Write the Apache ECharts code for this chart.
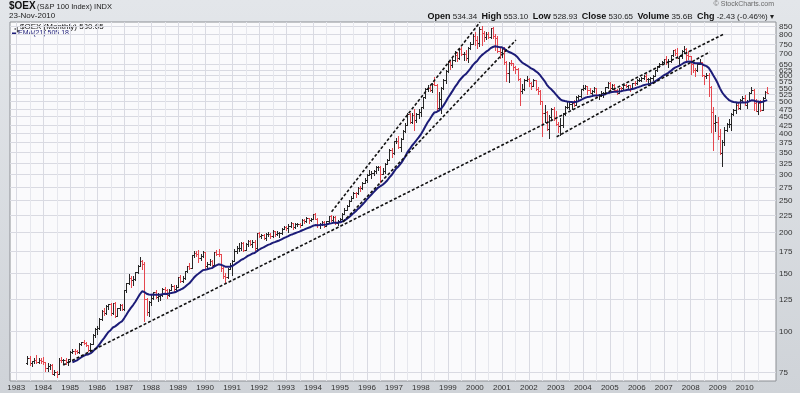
<!DOCTYPE html>
<html><head><meta charset="utf-8">
<script src="https://cdn.jsdelivr.net/npm/echarts@6/dist/echarts.min.js"></script>
<style>html,body{margin:0;padding:0;background:linear-gradient(#e3e6ea,#cfd3d8);}#c{width:800px;height:393px;}</style>
</head><body><div id="c"></div>
<script>
// ---- data (monthly bars, first bar = Jun 1983) ----
const startYear = 1983, startMonth = 6;
const opens = [
79.6,82.4,79.7,80.6,81.4,80.2,81.5,
80.8,80.1,77.0,78.0,78.4,73.8,75.1,73.8,81.7,81.4,81.4,80.2,
81.9,86.2,87.0,86.7,86.3,91.0,92.1,91.6,90.5,87.4,91.1,97.1,
101.4,101.7,108.9,114.7,113.0,118.7,120.4,113.3,121.4,111.0,117.1,119.6,
116.3,132.9,139.3,144.4,142.8,143.6,150.5,157.8,163.3,159.3,124.6,114.0,
122.3,126.0,131.2,126.9,128.0,128.5,134.0,133.3,128.1,133.2,136.7,134.1,
136.1,145.8,141.6,144.5,151.7,157.0,155.8,169.6,172.2,171.1,166.8,169.5,
173.2,158.0,159.3,163.2,158.8,173.4,171.8,171.0,154.8,146.9,145.9,154.7,
158.5,163.4,174.4,178.2,178.3,185.2,176.3,184.2,187.8,184.3,186.4,178.2,
198.1,194.2,196.0,191.8,197.1,197.3,193.8,201.5,196.7,198.5,198.9,204.9,
207.0,206.2,208.4,212.3,206.9,211.6,211.7,210.6,217.9,215.7,219.9,217.0,
219.2,226.4,219.5,209.5,211.9,214.6,208.8,215.4,223.5,217.5,222.0,213.2,
215.9,219.6,227.6,233.8,240.4,249.1,254.4,262.5,262.4,272.9,271.6,282.7,
287.6,298.9,301.0,303.4,307.5,314.5,315.2,300.8,306.4,323.0,331.5,355.8,
348.1,377.4,379.6,363.4,384.6,407.2,424.8,458.1,431.8,454.7,439.0,458.6,
465.8,480.3,514.2,545.4,550.3,539.9,566.9,560.4,478.7,508.5,549.4,581.8,
620.7,659.0,643.9,668.9,694.3,676.9,720.7,697.6,699.8,679.8,729.2,750.0,
793.4,767.0,751.5,831.7,806.1,788.4,800.0,787.0,834.7,790.1,779.0,710.2,
706.4,724.0,657.1,609.2,656.0,653.0,636.7,629.8,583.8,536.1,545.8,581.1,
585.5,570.8,558.9,579.4,543.8,538.9,499.8,460.4,462.6,411.7,447.3,472.8,
444.3,427.9,420.6,424.1,458.5,481.8,482.4,490.2,493.9,488.0,514.8,518.5,
544.8,548.6,555.3,540.6,531.5,537.9,547.6,523.3,524.5,529.4,531.2,551.7,
569.6,549.3,559.7,543.1,532.2,548.1,548.0,561.6,555.2,559.1,549.2,568.5,
568.0,582.4,582.7,589.1,596.3,584.2,584.3,587.3,599.7,621.2,640.7,651.3,
659.5,671.6,657.0,663.6,692.3,714.8,702.1,679.6,688.3,713.0,723.6,691.7,
685.7,647.9,625.4,621.7,651.2,658.2,601.6,595.7,602.9,554.0,465.0,430.2,
433.6,392.3,349.2,375.0,410.2,427.4,427.5,459.2,469.5,486.3,476.7,504.0,
513.0,488.6,502.5,532.1,540.0,495.7,469.0,495.7,472.2,513.5,534.34];
const highs = [
83.8,83.6,81.0,82.4,84.6,82.3,82.3,
82.9,80.3,79.5,79.3,79.0,76.0,75.6,82.6,83.2,82.0,82.4,82.2,
86.8,88.2,87.8,87.5,91.5,92.7,93.6,92.1,90.7,91.5,97.4,101.9,
103.0,109.5,115.5,117.5,119.5,121.0,121.2,121.8,122.5,117.6,120.3,121.0,
133.5,140.0,148.5,147.0,146.5,151.5,158.5,167.3,164.5,161.5,126.0,123.0,
129.0,131.5,133.5,130.0,129.5,134.5,136.0,134.0,133.8,139.0,137.5,138.0,
146.0,147.5,146.5,152.0,158.0,160.5,170.0,175.5,174.5,176.6,171.0,174.5,
173.5,161.5,166.0,164.5,174.0,176.0,177.5,171.5,156.5,150.0,155.5,160.5,
164.0,177.0,181.0,185.0,186.5,186.5,185.5,189.0,189.0,188.5,189.5,198.5,
200.5,197.5,197.0,198.5,199.5,198.0,202.5,202.0,201.0,200.5,205.5,209.0,
208.0,211.0,214.5,213.0,213.0,213.5,213.0,218.5,219.5,221.5,221.0,220.5,
227.5,228.0,220.5,213.5,216.0,216.0,216.5,224.0,225.5,224.0,224.0,218.0,
221.0,228.5,236.0,241.5,250.0,258.0,265.5,265.0,274.5,276.0,284.0,292.0,
300.0,308.0,306.5,309.0,317.0,317.5,317.0,313.0,324.5,334.0,358.0,360.0,
379.0,388.0,392.0,386.0,409.0,429.0,459.5,462.0,462.0,473.0,461.0,475.0,
482.0,516.0,548.0,560.0,556.0,569.0,593.0,565.0,533.0,553.0,586.0,623.0,
664.0,662.0,677.0,712.0,708.0,723.0,733.0,709.0,715.0,731.0,758.0,800.0,
815.0,790.0,845.0,848.0,822.0,812.0,815.0,838.0,843.0,800.0,789.0,735.0,
735.0,730.0,662.0,660.0,670.0,656.0,643.0,631.0,590.0,564.0,586.0,598.0,
590.0,572.0,587.0,580.0,555.0,540.0,500.0,486.0,468.0,456.0,479.0,481.0,
468.0,432.0,446.0,462.0,485.0,500.0,498.0,496.0,506.0,518.0,524.0,546.0,
560.0,561.0,558.0,551.0,540.0,552.0,549.0,527.0,537.0,535.0,555.0,572.0,
571.0,566.0,563.0,547.0,551.0,555.0,563.0,565.0,562.0,561.0,570.0,575.0,
585.0,590.0,593.0,602.0,605.0,589.0,592.0,602.0,623.0,643.0,655.0,665.0,
675.0,687.0,672.0,694.0,717.0,723.0,727.0,690.0,718.0,738.0,729.0,712.0,
688.0,656.0,632.0,656.0,672.0,661.0,602.0,612.0,612.0,556.0,480.0,455.0,
448.0,411.0,382.0,417.0,431.0,442.0,461.0,474.0,493.0,499.0,507.0,519.0,
523.0,504.0,535.0,554.0,544.0,507.0,497.0,506.0,515.0,537.0,553.10];
const lows = [
79.0,78.8,78.0,79.9,79.8,79.5,79.9,
79.3,75.6,75.6,76.4,73.6,73.3,72.4,73.7,80.3,79.5,79.4,78.8,
80.9,85.7,85.1,85.3,85.5,90.2,90.9,89.6,86.5,86.8,90.8,96.0,
97.8,101.0,107.8,112.0,112.5,116.5,112.0,112.8,109.8,110.5,115.5,115.5,
116.0,131.5,139.0,136.0,137.5,143.0,149.5,157.0,154.5,107.0,111.5,110.8,
119.5,125.0,126.0,123.5,124.0,127.5,130.5,126.0,127.5,132.8,131.0,133.0,
135.5,140.5,140.5,143.5,150.5,154.0,155.5,168.0,169.5,161.5,164.5,167.5,
155.0,154.5,158.5,156.5,157.5,170.0,168.5,152.0,145.0,140.5,145.0,154.0,
148.0,163.0,173.0,175.0,176.5,175.5,176.0,181.5,182.5,180.5,176.5,175.5,
192.5,191.5,190.0,188.5,194.5,191.5,193.0,195.0,195.5,193.0,197.5,203.5,
202.5,200.5,207.5,204.0,205.0,208.5,207.5,210.0,213.0,214.5,213.5,215.5,
218.5,218.5,207.0,205.0,210.0,207.0,208.0,214.5,216.0,214.5,211.5,210.5,
214.0,219.0,226.5,233.0,239.5,248.5,253.5,256.5,261.5,267.5,270.5,281.5,
283.0,297.5,292.5,298.5,302.5,308.0,284.8,299.5,303.5,321.5,331.0,338.5,
345.5,372.5,361.5,352.0,384.0,404.5,423.0,430.0,431.0,410.0,432.0,444.0,
450.0,479.0,512.0,536.0,537.0,535.0,560.0,470.0,471.0,461.0,545.0,570.0,
616.0,627.0,637.0,664.0,664.0,671.0,693.0,670.0,667.0,660.0,722.0,747.0,
742.0,728.0,737.0,743.0,765.0,775.0,778.0,780.0,780.0,715.0,705.0,680.0,
682.0,650.0,575.0,572.0,645.0,625.0,612.0,580.0,488.0,530.0,540.0,575.0,
557.0,545.0,557.0,540.0,525.0,490.0,392.0,433.0,408.0,387.0,440.0,440.0,
423.0,402.0,394.0,418.0,453.0,478.0,475.0,474.0,485.0,487.0,508.0,515.0,
543.0,545.0,525.0,529.0,519.0,534.0,518.0,510.0,521.0,514.0,528.0,549.0,
545.0,546.0,540.0,526.0,529.0,543.0,544.0,552.0,549.0,538.0,548.0,562.0,
565.0,575.0,578.0,584.0,575.0,561.0,568.0,582.0,598.0,619.0,637.0,650.0,
656.0,650.0,636.0,660.0,690.0,693.0,677.0,646.0,677.0,703.0,665.0,672.0,
604.0,615.0,596.0,617.0,649.0,598.0,565.0,590.0,520.0,403.0,356.0,405.0,
385.0,345.0,318.0,367.0,405.0,418.0,408.0,454.0,461.0,474.0,475.0,502.0,
487.0,478.0,500.0,530.0,470.0,467.0,458.0,469.0,470.0,512.0,528.93];
const closes = [
82.4,79.7,80.6,81.4,80.2,81.5,80.8,
80.1,77.0,78.0,78.4,73.8,75.1,73.8,81.7,81.4,81.4,80.2,81.9,
86.2,87.0,86.7,86.3,91.0,92.1,91.6,90.5,87.4,91.1,97.1,101.4,
101.7,108.9,114.7,113.0,118.7,120.4,113.3,121.4,111.0,117.1,119.6,116.3,
132.9,139.3,144.4,142.8,143.6,150.5,157.8,163.3,159.3,124.6,114.0,122.3,
126.0,131.2,126.9,128.0,128.5,134.0,133.3,128.1,133.2,136.7,134.1,136.1,
145.8,141.6,144.5,151.7,157.0,155.8,169.6,172.2,171.1,166.8,169.5,173.2,
158.0,159.3,163.2,158.8,173.4,171.8,171.0,154.8,146.9,145.9,154.7,158.5,
163.4,174.4,178.2,178.3,185.2,176.3,184.2,187.8,184.3,186.4,178.2,198.1,
194.2,196.0,191.8,197.1,197.3,193.8,201.5,196.7,198.5,198.9,204.9,207.0,
206.2,208.4,212.3,206.9,211.6,211.7,210.6,217.9,215.7,219.9,217.0,219.2,
226.4,219.5,209.5,211.9,214.6,208.8,215.4,223.5,217.5,222.0,213.2,215.9,
219.6,227.6,233.8,240.4,249.1,254.4,262.5,262.4,272.9,271.6,282.7,287.6,
298.9,301.0,303.4,307.5,314.5,315.2,300.8,306.4,323.0,331.5,355.8,348.1,
377.4,379.6,363.4,384.6,407.2,424.8,458.1,431.8,454.7,439.0,458.6,465.8,
480.3,514.2,545.4,550.3,539.9,566.9,560.4,478.7,508.5,549.4,581.8,620.7,
659.0,643.9,668.9,694.3,676.9,720.7,697.6,699.8,679.8,729.2,750.0,793.4,
767.0,751.5,831.7,806.1,788.4,800.0,787.0,834.7,790.1,779.0,710.2,706.4,
724.0,657.1,609.2,656.0,653.0,636.7,629.8,583.8,536.1,545.8,581.1,585.5,
570.8,558.9,579.4,543.8,538.9,499.8,460.4,462.6,411.7,447.3,472.8,444.3,
427.9,420.6,424.1,458.5,481.8,482.4,490.2,493.9,488.0,514.8,518.5,544.8,
548.6,555.3,540.6,531.5,537.9,547.6,523.3,524.5,529.4,531.2,551.7,569.6,
549.3,559.7,543.1,532.2,548.1,548.0,561.6,555.2,559.1,549.2,568.5,568.0,
582.4,582.7,589.1,596.3,584.2,584.3,587.3,599.7,621.2,640.7,651.3,659.5,
671.6,657.0,663.6,692.3,714.8,702.1,679.6,688.3,713.0,723.6,691.7,685.7,
647.9,625.4,621.7,651.2,658.2,601.6,595.7,602.9,554.0,465.0,430.2,433.6,
392.3,349.2,375.0,410.2,427.4,427.5,459.2,469.5,486.3,476.7,504.0,513.0,
488.6,502.5,532.1,540.0,495.7,469.0,495.7,472.2,513.5,534.3,530.65];
const yTicks = [75,100,125,150,175,200,225,250,275,300,325,350,375,400,425,450,475,500,525,550,575,600,625,650,700,750,800,850];
const xYears = [1983,1984,1985,1986,1987,1988,1989,1990,1991,1992,1993,1994,1995,1996,1997,1998,1999,2000,2001,2002,2003,2004,2005,2006,2007,2008,2009,2010];
const xHalfYears = [1983.5,1984.5,1985.5,1986.5,1987.5,1988.5,1989.5,1990.5,1991.5,1992.5,1993.5,1994.5,1995.5,1996.5,1997.5,1998.5,1999.5,2000.5,2001.5,2002.5,2003.5,2004.5,2005.5,2006.5,2007.5,2008.5,2009.5,2010.5];
// trend lines: [year fraction, value]
const trendLong = [[1984.74,78.6],[2009.2,800]];
const trendChannelLow = [[2003.03,390],[2008.71,708]];
const trendSteepUp = [[1994.69,230.5],[2000.19,872]];
const trendSteepLow = [[1995.11,214.4],[2001.52,769]];

// ---- chart ----
const FONT = '"Liberation Sans", Arial, sans-serif';
const X_MIN = 1982.77, X_MAX = 2011.16, Y_MIN = 70.26, Y_MAX = 873;
const t = closes.map((_, i) => startYear + (startMonth - 1 + i) / 12);
const bars = closes.map((c, i) => [t[i], opens[i], highs[i], lows[i], c, (i === 0 ? c >= opens[0] : c >= closes[i - 1]) ? 1 : 0]);
const N = 21, k = 2 / (N + 1);
const emaData = [];
let e = 0;
for (let i = 0; i < closes.length; i++) {
  if (i < N - 1) continue;
  if (i === N - 1) { let s = 0; for (let j = 0; j < N; j++) s += closes[j]; e = s / N; }
  else e = closes[i] * k + e * (1 - k);
  emaData.push([t[i], e]);
}

const chart = echarts.init(document.getElementById('c'), null, {width: 800, height: 393});
function crisp(v) { return Math.round(v) + 0.5; }

const dashStyle = {color: '#111', width: 1.6, type: [3, 2]};
function trend(data) {
  return {type: 'line', data: data, symbol: 'none', lineStyle: dashStyle, z: 6, silent: true};
}
const GRID_COL = '#d9dae2';

chart.setOption({
  animation: false,
  backgroundColor: 'transparent',
  grid: {left: 10, right: 24, top: 22, bottom: 12, show: true, backgroundColor: '#fafafc', borderColor: '#8c8f94', borderWidth: 1},
  xAxis: {
    type: 'value', min: X_MIN, max: X_MAX,
    axisLine: {show: false}, axisTick: {show: false, customValues: xYears},
    axisLabel: {customValues: xYears, formatter: v => String(Math.round(v)), fontSize: 8, color: '#333', fontFamily: FONT, margin: 3},
    splitLine: {show: true, lineStyle: {color: GRID_COL, width: 1}}
  },
  yAxis: {
    type: 'log', position: 'right', min: Y_MIN, max: Y_MAX,
    axisLine: {show: false}, axisTick: {show: false}, axisLabel: {show: false}, splitLine: {show: false}
  },
  graphic: [
    {type: 'text', left: 9, top: 1, style: {text: '$OEX', font: 'bold 10px ' + FONT, fill: '#111'}},
    {type: 'text', left: 37, top: 3, style: {text: '(S&P 100 Index) INDX', font: '7.5px ' + FONT, fill: '#222'}},
    {type: 'text', left: 9, top: 12, style: {text: '23-Nov-2010', font: '8px ' + FONT, fill: '#222'}},
    {type: 'text', right: 26, top: 1, style: {text: '© StockCharts.com', font: '7px ' + FONT, fill: '#6a6a6a'}},
    {type: 'text', right: 26, top: 12, style: {
      text: '{b|Open} 534.34  {b|High} 553.10  {b|Low} 528.93  {b|Close} 530.65  {b|Volume} 35.6B  {b|Chg} -2.43 (-0.46%) ▾',
      font: '8px ' + FONT, fill: '#222', rich: {b: {font: 'bold 9px ' + FONT, fill: '#111'}}}},
    {type: 'group', left: 12, top: 24, children: [
      {type: 'line', shape: {x1: 2.5, y1: 0, x2: 2.5, y2: 6}, style: {stroke: '#111', lineWidth: 1}},
      {type: 'line', shape: {x1: 0, y1: 2.5, x2: 2.5, y2: 2.5}, style: {stroke: '#111', lineWidth: 1}},
      {type: 'line', shape: {x1: 2.5, y1: 4.5, x2: 5, y2: 4.5}, style: {stroke: '#111', lineWidth: 1}}
    ]},
    {type: 'text', left: 20, top: 23, style: {text: '$OEX (Monthly) 530.65', font: '8px ' + FONT, fill: '#111'}},
    {type: 'line', shape: {x1: 12, y1: 33.5, x2: 17, y2: 33.5}, style: {stroke: '#1c1c78', lineWidth: 2}},
    {type: 'text', left: 18, top: 30, style: {text: 'EMA(21) 505.18', font: '7px ' + FONT, fill: '#1c1c78'}}
  ],
  series: [
    {
      type: 'custom', z: 1, silent: true, clip: false,
      data: yTicks.map(v => [X_MIN, v]), encode: {x: 0, y: 1},
      renderItem: function (params, api) {
        const cs = params.coordSys;
        const y = crisp(api.coord([X_MIN, api.value(1)])[1]);
        return {type: 'group', children: [
          {type: 'line', shape: {x1: cs.x, y1: y, x2: cs.x + cs.width, y2: y}, style: {stroke: GRID_COL, lineWidth: 1}},
          {type: 'text', x: cs.x + cs.width + 3, y: y, style: {text: String(api.value(1)), font: '8px ' + FONT, fill: '#333', verticalAlign: 'middle', align: 'left'}}
        ]};
      }
    },
    {
      type: 'custom', z: 1, silent: true,
      data: xHalfYears.map(v => [v, Y_MIN]), encode: {x: 0, y: 1},
      renderItem: function (params, api) {
        const cs = params.coordSys;
        const x = crisp(api.coord([api.value(0), Y_MIN])[0]);
        return {type: 'line', shape: {x1: x, y1: cs.y, x2: x, y2: cs.y + cs.height}, style: {stroke: '#e6e7ed', lineWidth: 1}};
      }
    },
    {
      type: 'custom', z: 3, silent: true,
      data: bars, encode: {x: 0, y: [1, 2, 3, 4]},
      renderItem: function (params, api) {
        const tt = api.value(0);
        const pO = api.coord([tt, api.value(1)]), pH = api.coord([tt, api.value(2)]);
        const pL = api.coord([tt, api.value(3)]), pC = api.coord([tt, api.value(4)]);
        const x = crisp(pH[0]);
        const col = api.value(5) ? '#262626' : '#e5474f';
        const st = {stroke: col, lineWidth: 1};
        const yo = crisp(pO[1]), yc = crisp(pC[1]);
        return {type: 'group', children: [
          {type: 'line', shape: {x1: x, y1: Math.round(pH[1]), x2: x, y2: Math.round(pL[1]) + 1}, style: st},
          {type: 'line', shape: {x1: x - 1.5, y1: yo, x2: x, y2: yo}, style: st},
          {type: 'line', shape: {x1: x, y1: yc, x2: x + 1.5, y2: yc}, style: st}
        ]};
      }
    },
    {type: 'line', data: emaData, symbol: 'none', z: 5, silent: true, lineStyle: {color: '#1c1c78', width: 2}},
    trend(trendLong), trend(trendChannelLow), trend(trendSteepUp), trend(trendSteepLow)
  ]
});
</script>
</body></html>
